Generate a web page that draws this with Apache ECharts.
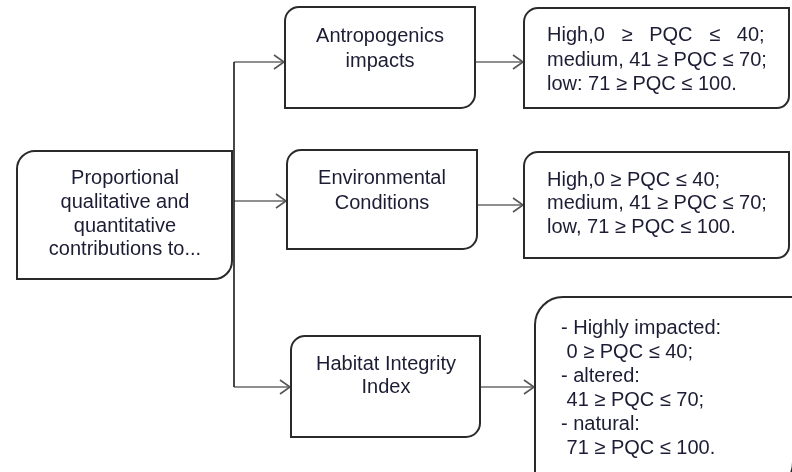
<!DOCTYPE html>
<html>
<head>
<meta charset="utf-8">
<script src="https://cdn.jsdelivr.net/npm/echarts@6/dist/echarts.min.js"></script>
<style>html,body{margin:0;padding:0;background:#fff}#chart{width:792px;height:472px}</style>
</head>
<body>
<div id="chart"></div>
<script>
// ---- content (data) ----
const boxIds = ['source', 'anthropogenic', 'environmental', 'habitat', 'anthroClasses', 'envClasses', 'habitatClasses'];
const boxTexts = [
  'Proportional\nqualitative and\nquantitative\ncontributions to...',
  'Antropogenics\nimpacts',
  'Environmental\nConditions',
  'Habitat Integrity\nIndex',
  'High,0   \u2265   PQC   \u2264   40;\nmedium, 41 \u2265 PQC \u2264 70;\nlow: 71 \u2265 PQC \u2264 100.',
  'High,0 \u2265 PQC \u2264 40;\nmedium, 41 \u2265 PQC \u2264 70;\nlow, 71 \u2265 PQC \u2264 100.',
  '- Highly impacted:\n 0 \u2265 PQC \u2264 40;\n- altered:\n 41 \u2265 PQC \u2264 70;\n- natural:\n 71 \u2265 PQC \u2264 100.'
];
const links = [[0, 1], [0, 2], [0, 3], [1, 4], [2, 5], [3, 6]];

// ---- layout (positions / sizes / styles) ----
const boxLayout = [
  { x: 17,  y: 151, w: 215, h: 128, r: [18, 0, 18, 0], align: 'center', tx: 125, ty: 167, lh: 23.7 },
  { x: 285, y: 7,   w: 190, h: 101, r: [14, 0, 14, 0], align: 'center', tx: 380, ty: 24,  lh: 25 },
  { x: 287, y: 150, w: 190, h: 99,  r: [14, 0, 14, 0], align: 'center', tx: 382, ty: 165.5, lh: 25 },
  { x: 291, y: 336, w: 189, h: 101, r: [14, 0, 14, 0], align: 'center', tx: 386, ty: 352.5, lh: 23 },
  { x: 524, y: 8,   w: 265, h: 100, r: [14, 0, 12, 0], align: 'left',   tx: 547, ty: 23.5, lh: 24.5 },
  { x: 524, y: 152, w: 265, h: 106, r: [14, 0, 12, 0], align: 'left',   tx: 547, ty: 168.5, lh: 23.5 },
  { x: 535, y: 297, w: 258, h: 195, r: [28, 0, 30, 0], align: 'left',   tx: 561, ty: 316, lh: 24 }
];
const linkY = [62, 201, 387, 62, 205, 387];
const trunkX = 234;
const TEXT_FONT = '20px "Liberation Sans", Arial, sans-serif';
const TEXT_COLOR = '#1c1c34';

const chart = echarts.init(document.getElementById('chart'), null, { renderer: 'canvas' });

function renderBox(params, api) {
  const i = api.value(0);
  const L = boxLayout[i];
  const p = api.coord([L.x, L.y]);
  const s = api.size([L.w, L.h]);
  const t = api.coord([L.tx, L.ty]);
  return {
    type: 'group',
    children: [
      { type: 'rect', shape: { x: p[0], y: p[1], width: s[0], height: s[1], r: L.r },
        style: { fill: '#fff', stroke: '#2a2a2a', lineWidth: 2 } },
      { type: 'text', x: t[0], y: t[1],
        style: { text: boxTexts[i], font: TEXT_FONT, fill: TEXT_COLOR, align: L.align, verticalAlign: 'top', lineHeight: L.lh } }
    ]
  };
}

function renderLink(params, api) {
  const k = api.value(0);
  const a = links[k][0], b = links[k][1];
  const A = boxLayout[a], B = boxLayout[b];
  const x0 = a === 0 ? trunkX : A.x + A.w;
  const x1 = B.x;
  const y = linkY[k];
  const p0 = api.coord([x0, y]);
  const p1 = api.coord([x1, y]);
  const children = [
    { type: 'line', shape: { x1: p0[0], y1: p0[1], x2: p1[0] - 1, y2: p1[1] },
      style: { stroke: '#6a6a6a', lineWidth: 1.6 } },
    { type: 'polyline', shape: { points: [[p1[0] - 11, p1[1] - 7], [p1[0] - 1, p1[1]], [p1[0] - 11, p1[1] + 7]] },
      style: { stroke: '#555', lineWidth: 1.6, fill: null } }
  ];
  if (k === 0) {
    const ys = links.map((l, j) => l[0] === 0 ? linkY[j] : null).filter(v => v != null);
    const q0 = api.coord([trunkX, Math.min.apply(null, ys)]);
    const q1 = api.coord([trunkX, Math.max.apply(null, ys)]);
    children.push({ type: 'line', shape: { x1: q0[0], y1: q0[1], x2: q1[0], y2: q1[1] },
      style: { stroke: '#1a1a1a', lineWidth: 1.6 }, z2: 5 });
  }
  return { type: 'group', children: children };
}

chart.setOption({
  animation: false,
  backgroundColor: '#fff',
  grid: { left: 0, right: 0, top: 0, bottom: 0 },
  xAxis: { type: 'value', min: 0, max: 792, show: false },
  yAxis: { type: 'value', min: 0, max: 472, inverse: true, show: false },
  series: [
    { type: 'custom', name: 'links', renderItem: renderLink, silent: true, z: 1,
      data: links.map((l, k) => [k]) },
    { type: 'custom', name: 'boxes', renderItem: renderBox, silent: true, z: 2,
      data: boxIds.map((id, i) => [i]) }
  ]
});
</script>
</body>
</html>
